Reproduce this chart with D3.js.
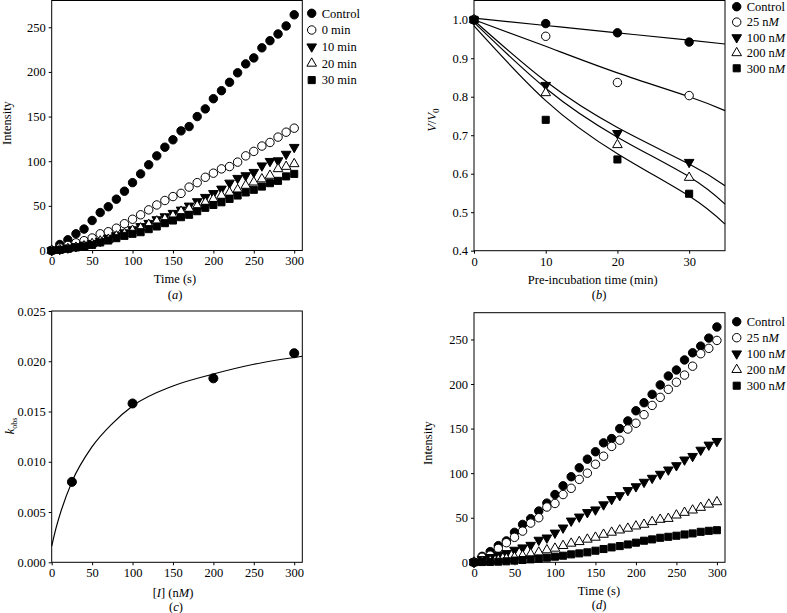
<!DOCTYPE html>
<html>
<head>
<meta charset="utf-8">
<script src="https://cdn.jsdelivr.net/npm/d3@7"></script>
<style>
  body { margin: 0; background: #fff; }
  svg text { font-family: "Liberation Serif", "DejaVu Serif", serif; font-size: 12.5px; fill: #000; }
  .tick line { stroke: #000; }
</style>
</head>
<body>
<svg id="chart" width="787" height="613"></svg>
<script>
// ---- data --------------------------------------------------------------
const timeSec = d3.range(0, 301, 10);

// panel a / d: shared control trace
const controlIntensity = [0, 6.7, 12, 18.7, 24, 33.6, 42.5, 49, 57.5, 66.4, 76, 85.8, 96, 106, 115.7, 124,
  134, 138.8, 150, 158.6, 170, 179, 188.4, 199, 209, 215.7, 227, 235, 242.5, 251.5, 264];
// panel a: pre-incubation times
const min0 = [0, 3, 5.6, 8.6, 11, 14, 18.7, 21, 25, 30, 35, 40, 45.5, 51, 56, 60.4,
  64, 71, 76, 82, 86.6, 91.4, 94, 99, 106, 111, 117, 121, 127, 132.5, 137];
const min10 = [0, 1.5, 3, 4.5, 6.3, 8.2, 10.4, 13.8, 16.8, 20, 23.5, 27, 30.6, 34.7, 38, 41.8,
  45.5, 50, 54.9, 59.7, 64, 69, 75.7, 81, 84, 87.7, 95, 100, 100.7, 108, 115.7];
const min20 = [0, 0.7, 1.9, 3.4, 4.9, 7.5, 10.4, 12.3, 16, 18.7, 22.4, 25, 29, 32.8, 35.4, 39,
  43.7, 46.6, 50, 53.7, 57.5, 61.6, 65, 68, 72.8, 76.5, 80, 84, 91.4, 94, 97];
const min30 = [0, 0.7, 1.9, 3.4, 4.5, 6.3, 9, 11.2, 13.8, 16.4, 18.7, 20.5, 23.9, 26.9, 30.6, 33.6,
  37.3, 40, 44, 47.8, 51, 54, 57.8, 61.6, 65, 68, 71.6, 75.4, 78, 83, 85.8];

// panel d: inhibitor concentrations
const nM25 = [0, 5.6, 8, 15.6, 22, 28, 35, 44, 50, 62, 66, 76, 83, 93, 100, 110,
  119, 130, 137, 149.5, 156, 165.6, 176, 185, 194, 202, 210, 220, 234, 240, 248.9];
const nM100 = [0, 3.3, 5.6, 8.2, 10, 13.8, 16.4, 19.3, 25, 27.5, 33, 38.7, 46.5, 51, 56, 59,
  64.7, 70.7, 75, 80.7, 85, 90, 94.5, 99, 103.8, 108.6, 115, 119, 126, 131.7, 135.8];
const nM200 = [0, 0.7, 1.5, 2.6, 4.1, 5.6, 7.4, 9.3, 11.2, 13.8, 15.6, 18.6, 21.2, 23, 25.7, 27.9,
  31.2, 33.5, 36, 38, 40.5, 42.4, 45.4, 48, 49, 52.8, 55.8, 58.4, 61.4, 65, 67.7];
const nM300 = [0, 0.3, 0.4, 0.7, 1.1, 1.9, 2.6, 3.3, 4.1, 5.2, 6.3, 7.4, 8.9, 10, 11.2, 13,
  14.9, 16.7, 18.2, 20, 22, 24.2, 25.7, 27.5, 28.6, 29.8, 31.2, 32.4, 34.2, 35.3, 36];

// panel b: residual activity vs pre-incubation time
const preTime = [0, 10, 20, 30];
const vControl = [1.0, 0.99, 0.966, 0.942];
const v25 = [1.0, 0.957, 0.837, 0.803];
const v100 = [1.0, 0.83, 0.705, 0.63];
const v200 = [1.0, 0.81, 0.675, 0.59];
const v300 = [1.0, 0.74, 0.637, 0.548];
// fitted lines
const fitTime = [0, 10, 20, 30, 35];
const fitControl = [1.004, 0.985, 0.966, 0.947, 0.937];
const fit25 = [1.0, 0.931, 0.862, 0.8, 0.764];
const fit100 = [0.998, 0.84, 0.72, 0.625, 0.569];
const fit200 = [0.993, 0.822, 0.695, 0.592, 0.521];
const fit300 = [0.984, 0.79, 0.652, 0.542, 0.469];

// panel c: kobs vs [I]
const inhConc = [25, 100, 200, 300];
const kObs = [0.008, 0.0158, 0.0183, 0.0208];
const kFitConc = [0, 5, 10, 25, 50, 75, 100, 150, 200, 250, 310];
const kFit = [0.0016, 0.0033, 0.0047, 0.008, 0.0115, 0.0138, 0.01555, 0.01754, 0.01873, 0.0197, 0.0205];

const namesA = ['Control', '0 min', '10 min', '20 min', '30 min'];
const namesNM = ['Control', '25 n|M', '100 n|M', '200 n|M', '300 n|M'];

// ---- drawing helpers --------------------------------------------------
const svg = d3.select('#chart');
const markers = [
  { type: d3.symbolCircle, size: 56, fill: '#000', rot: 0 },
  { type: d3.symbolCircle, size: 56, fill: '#fff', rot: 0 },
  { type: d3.symbolTriangle, size: 40, fill: '#000', rot: 180 },
  { type: d3.symbolTriangle, size: 40, fill: '#fff', rot: 0 },
  { type: d3.symbolSquare, size: 50, fill: '#000', rot: 0 },
];

function drawMarkers(g, pts, m) {
  g.selectAll(null)
    .data(pts)
    .enter()
    .append('path')
    .attr('d', d3.symbol().type(m.type).size(m.size))
    .attr('transform', d => `translate(${d[0]},${d[1]}) rotate(${m.rot})`)
    .attr('fill', m.fill)
    .attr('stroke', '#000')
    .attr('stroke-width', 1);
}

// label text with "|" marking an italic part, e.g. '25 n|M'
function richText(sel, str) {
  str.split('|').forEach((part, i) => {
    sel.append('tspan').attr('font-style', i % 2 ? 'italic' : null).text(part);
  });
}

function drawLegend(x, y, step, names) {
  const g = svg.append('g');
  names.forEach((name, i) => {
    drawMarkers(g, [[x, y + i * step]], markers[i]);
    const t = g.append('text')
      .attr('x', x + 10)
      .attr('y', y + i * step)
      .attr('dy', '0.35em');
    richText(t, name);
  });
}

function frame(x, y) {
  const [x0, x1] = x.range();
  const [y0, y1] = y.range();
  svg.append('rect')
    .attr('x', x0).attr('y', y1)
    .attr('width', x1 - x0).attr('height', y0 - y1)
    .attr('fill', 'none').attr('stroke', '#000').attr('stroke-width', 1);
}

function axes(x, y, xTicks, yTicks, yFmt) {
  svg.append('g')
    .attr('transform', `translate(0,${y.range()[0]})`)
    .call(d3.axisBottom(x).tickValues(xTicks).tickSize(3).tickPadding(3).tickFormat(d3.format('d')))
    .call(g => g.select('.domain').remove());
  svg.append('g')
    .attr('transform', `translate(${x.range()[0]},0)`)
    .call(d3.axisLeft(y).tickValues(yTicks).tickSize(3).tickPadding(3).tickFormat(yFmt))
    .call(g => g.select('.domain').remove());
  frame(x, y);
}

function title(x, y, str) {
  const t = svg.append('text')
    .attr('x', x).attr('y', y)
    .attr('text-anchor', 'middle')
    .attr('dy', '0.35em');
  richText(t, str);
}

function yTitle(x, y, build) {
  const t = svg.append('text')
    .attr('transform', `translate(${x},${y}) rotate(-90)`)
    .attr('text-anchor', 'middle')
    .attr('dy', '0.35em');
  build(t);
}

const pair = (xs, ys) => xs.map((v, i) => [v, ys[i]]);

// ---- panel a ------------------------------------------------------------
{
  const x = d3.scaleLinear().domain([0, 310]).range([51.7, 302.3]);
  const y = d3.scaleLinear().domain([0, 280]).range([250.5, 0.5]);
  axes(x, y, d3.range(0, 301, 50), d3.range(0, 251, 50), d3.format('d'));
  const g = svg.append('g');
  [controlIntensity, min0, min10, min20, min30].forEach((s, i) => {
    drawMarkers(g, pair(timeSec, s).map(d => [x(d[0]), y(d[1])]), markers[i]);
  });
  drawLegend(311.7, 13.3, 16.7, namesA);
  title(175, 279, 'Time (s)');
  title(175, 295, '(|a|)');
  yTitle(7, 123, t => t.text('Intensity'));
}

// ---- panel b ------------------------------------------------------------
{
  const x = d3.scaleLinear().domain([0, 35]).range([474, 725]);
  const y = d3.scaleLinear().domain([0.4, 1.05]).range([250.7, 0.5]);
  axes(x, y, [0, 10, 20, 30], d3.range(0.4, 1.01, 0.1), d3.format('.1f'));
  const line = d3.line().x(d => x(d[0])).y(d => y(d[1])).curve(d3.curveNatural);
  [fitControl, fit25, fit100, fit200, fit300].forEach(f => {
    svg.append('path')
      .attr('d', line(pair(fitTime, f)))
      .attr('fill', 'none').attr('stroke', '#000').attr('stroke-width', 1.2);
  });
  const g = svg.append('g');
  [vControl, v25, v100, v200, v300].forEach((s, i) => {
    drawMarkers(g, pair(preTime, s).map(d => [x(d[0]), y(d[1])]), markers[i]);
  });
  drawLegend(736.7, 6.7, 15.4, namesNM);
  title(592.7, 280, 'Pre-incubation time (min)');
  title(599, 295, '(|b|)');
  yTitle(431.7, 120, t => {
    t.append('tspan').attr('font-style', 'italic').text('V');
    t.append('tspan').text('/');
    t.append('tspan').attr('font-style', 'italic').text('V');
    t.append('tspan').attr('dy', '0.3em').style('font-size', '9px').text('0');
  });
}

// ---- panel c ------------------------------------------------------------
{
  const x = d3.scaleLinear().domain([0, 310]).range([51.7, 302.3]);
  const y = d3.scaleLinear().domain([0, 0.025]).range([562.3, 311]);
  axes(x, y, d3.range(0, 301, 50), d3.range(0, 0.0251, 0.005), d3.format('.3f'));
  const line = d3.line().x(d => x(d[0])).y(d => y(d[1])).curve(d3.curveMonotoneX);
  svg.append('path')
    .attr('d', line(pair(kFitConc, kFit)))
    .attr('fill', 'none').attr('stroke', '#000').attr('stroke-width', 1.2);
  const g = svg.append('g');
  drawMarkers(g, pair(inhConc, kObs).map(d => [x(d[0]), y(d[1])]), { ...markers[0], size: 64 });
  title(173, 593, '[|I|] (n|M|)');
  title(176, 607, '(|c|)');
  yTitle(10, 426, t => {
    t.append('tspan').attr('font-style', 'italic').text('k');
    t.append('tspan').attr('dy', '0.3em').style('font-size', '8px').text('obs');
  });
}

// ---- panel d ------------------------------------------------------------
{
  const x = d3.scaleLinear().domain([0, 310]).range([474, 725]);
  const y = d3.scaleLinear().domain([0, 280]).range([562.3, 312.7]);
  axes(x, y, d3.range(0, 301, 50), d3.range(0, 251, 50), d3.format('d'));
  const g = svg.append('g');
  [controlIntensity, nM25, nM100, nM200, nM300].forEach((s, i) => {
    drawMarkers(g, pair(timeSec, s).map(d => [x(d[0]), y(d[1])]), markers[i]);
  });
  drawLegend(736.7, 321.7, 16, namesNM);
  title(599, 591, 'Time (s)');
  title(599, 605, '(|d|)');
  yTitle(428, 443, t => t.text('Intensity'));
}
</script>
</body>
</html>
